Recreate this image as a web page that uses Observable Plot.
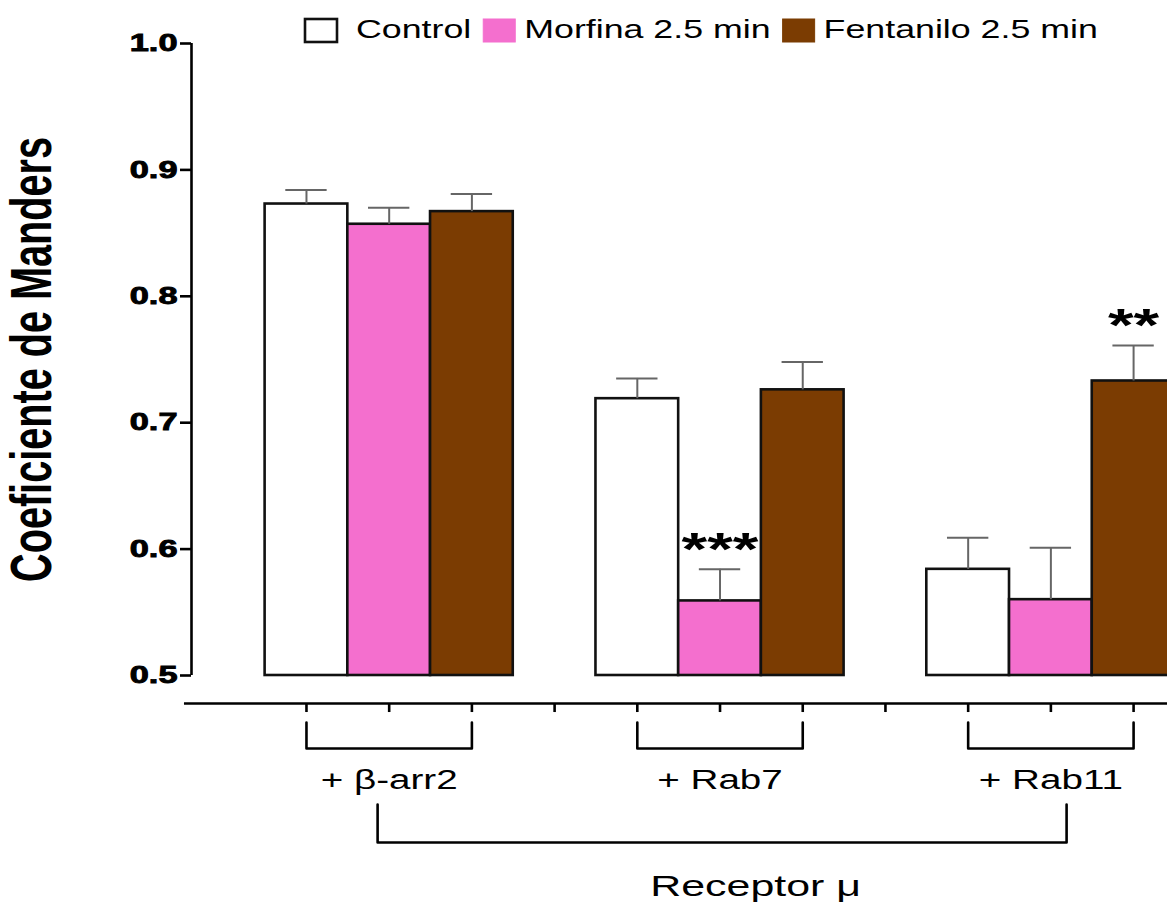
<!DOCTYPE html>
<html><head><meta charset="utf-8">
<script src="https://cdn.jsdelivr.net/npm/d3@7"></script>
<script src="https://cdn.jsdelivr.net/npm/@observablehq/plot@0.6"></script>
<style>
html,body{margin:0;padding:0;background:#fff;overflow:hidden;width:1167px;height:903px}
#wrap{position:relative;width:1167px;height:903px;overflow:hidden}
#legend{position:absolute;left:0;top:0}
#chart{position:absolute;left:0;top:0}
</style></head><body><div id="wrap"><div id="chart"></div></div>
<script>
// ---- data ----
const groups = ["+ β-arr2", "+ Rab7", "+ Rab11"];
const series = ["Control", "Morfina 2.5 min", "Fentanilo 2.5 min"];
const colors = ["#ffffff", "#f46fce", "#7b3c02"];
const control   = [0.873, 0.719, 0.584];
const morfina   = [0.857, 0.559, 0.560];
const fentanilo = [0.867, 0.726, 0.733];
const controlErr   = [0.011, 0.016, 0.025];
const morfinaErr   = [0.013, 0.025, 0.041];
const fentaniloErr = [0.014, 0.022, 0.028];
const controlSig   = ["", "", ""];
const morfinaSig   = ["", "***", ""];
const fentaniloSig = ["", "", "**"];
const yTicks = [0.5, 0.6, 0.7, 0.8, 0.9, 1.0];
const yLabel = "Coeficiente de Manders";
const xLabel = "Receptor μ";

// ---- table ----
const values = [control, morfina, fentanilo];
const errs = [controlErr, morfinaErr, fentaniloErr];
const sigs = [controlSig, morfinaSig, fentaniloSig];
const rows = [];
groups.forEach((g, gi) => series.forEach((s, si) => {
  rows.push({group: g, series: s, pos: gi * 4 + si, value: values[si][gi], err: errs[si][gi], sig: sigs[si][gi]});
}));

// ---- layout (scale units) ----
const xDomain = [-1.39, 10.41];
const axisStart = -1.475;
const axisLineY = 0.4778, tickBottomY = 0.4707;
const bracketTop = 0.4628, bracketBottom = 0.4422, groupLabelY = 0.4169;
const recTop = 0.3979, recBottom = 0.3679, recSpan = [0.86, 9.19], recLabel = {x: 5.43, y: 0.333};
const STRETCH = 1.43;

const positions = d3.range(11);
const brackets = [];
groups.forEach((g, gi) => {
  const a = gi * 4, b = gi * 4 + 2;
  [[a, bracketTop], [a, bracketBottom], [b, bracketBottom], [b, bracketTop]].forEach(([x, y]) => brackets.push({g, x, y}));
});
const recBracket = [[recSpan[0], recTop], [recSpan[0], recBottom], [recSpan[1], recBottom], [recSpan[1], recTop]].map(([x, y]) => ({x, y}));

const plot = Plot.plot({
  width: 1167, height: 903,
  marginLeft: 191, marginRight: 0, marginTop: 43, marginBottom: 228,
  style: {fontFamily: "'Liberation Sans', Arial, sans-serif", color: "#000", background: "transparent", overflow: "hidden"},
  x: {domain: xDomain, axis: null},
  y: {domain: [0.5, 1.0], axis: null},
  color: {domain: series, range: colors},
  marks: [
    Plot.rectY(rows, {x1: d => d.pos - 0.5, x2: d => d.pos + 0.5, y1: 0.5, y2: "value", fill: "series", stroke: "#111", strokeWidth: 2.6}),
    Plot.ruleX(rows, {x: "pos", y1: "value", y2: d => d.value + d.err, stroke: "#666", strokeWidth: 2}),
    Plot.ruleY(rows, {y: d => d.value + d.err, x1: d => d.pos - 0.25, x2: d => d.pos + 0.25, stroke: "#666", strokeWidth: 2}),
    Plot.text(rows.filter(d => d.sig), {x: "pos", y: d => d.value + d.err, text: "sig", dy: -19, fontSize: 46, fontWeight: "bold"}),
    Plot.axisY(yTicks, {tickSize: 11, tickPadding: 3, tickFormat: d3.format(".1f"), fontSize: 24, fontWeight: "bold", strokeWidth: 2.6, label: null, className: "yticks"}),
    Plot.ruleX([xDomain[0]], {y1: 0.5, y2: 1.0, strokeWidth: 2.6}),
    Plot.text([yLabel], {frameAnchor: "left", textAnchor: "middle", dx: -159, rotate: -90, text: d => d, fontSize: 40, fontWeight: "bold", className: "ytitle"}),
    Plot.ruleY([axisLineY], {x1: axisStart, x2: xDomain[1], strokeWidth: 2.6}),
    Plot.ruleX(positions, {x: d => d, y1: axisLineY, y2: tickBottomY, strokeWidth: 2.6}),
    Plot.line(brackets, {x: "x", y: "y", z: "g", strokeWidth: 2.6}),
    Plot.text(groups, {x: (d, i) => i * 4 + 1, y: () => groupLabelY, text: d => d, fontSize: 27}),
    Plot.line(recBracket, {x: "x", y: "y", strokeWidth: 2.6}),
    Plot.text([xLabel], {x: () => recLabel.x, y: () => recLabel.y, text: d => d, fontSize: 30})
  ]
});
document.getElementById("chart").appendChild(plot);

// legend
const lg = d3.select("#wrap").append("svg").attr("id", "legend").attr("width", 1167).attr("height", 60)
  .style("font-family", "'Liberation Sans', Arial, sans-serif");
let lx = 305;
series.forEach((s, i) => {
  lg.append("rect").attr("x", lx).attr("y", 19).attr("width", 32).attr("height", 23)
    .attr("fill", colors[i]).attr("stroke", i === 0 ? "#111" : colors[i]).attr("stroke-width", i === 0 ? 2.6 : 1);
  const t = lg.append("text").attr("x", lx + 33 + 18 - (i ? 10 : 0)).attr("y", 38).attr("font-size", 25).attr("fill", "#000").text(s);
  const w = t.node().getComputedTextLength() * STRETCH;
  t.attr("textLength", w).attr("lengthAdjust", "spacingAndGlyphs");
  lx = +t.attr("x") + w + 12;
});

// stretch texts to match the wide look of the original
d3.select(plot).selectAll("text").each(function() {
  const el = d3.select(this);
  const len = this.getComputedTextLength();
  if (this.closest(".ytitle")) {
    el.attr("text-anchor", "middle").attr("transform", (el.attr("transform") || "") + ` scale(${445 / len},1.42)`);
  } else {
    el.attr("textLength", len * STRETCH).attr("lengthAdjust", "spacingAndGlyphs");
  }
  if (this.closest(".yticks")) el.attr("stroke", "#000").attr("stroke-width", 0.9);
});
</script></body></html>
